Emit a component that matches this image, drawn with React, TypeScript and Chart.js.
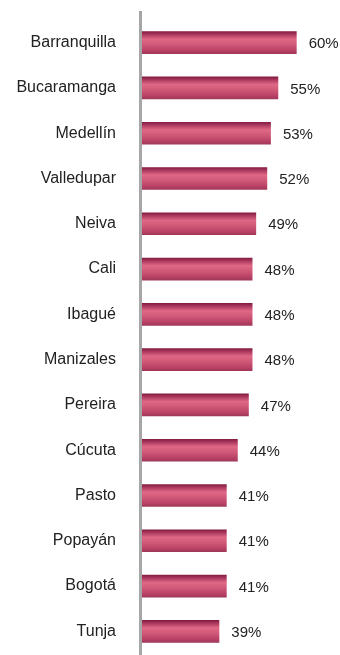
import React, { useEffect, useRef } from "react";
import { Chart, registerables } from "chart.js";

Chart.register(...registerables);

const cities = [
  "Barranquilla",
  "Bucaramanga",
  "Medellín",
  "Valledupar",
  "Neiva",
  "Cali",
  "Ibagué",
  "Manizales",
  "Pereira",
  "Cúcuta",
  "Pasto",
  "Popayán",
  "Bogotá",
  "Tunja",
];
const values = [60, 55, 53, 52, 49, 48, 48, 48, 47, 44, 41, 41, 41, 39];
const valueLabels = ["60%", "55%", "53%", "52%", "49%", "48%", "48%", "48%", "47%", "44%", "41%", "41%", "41%", "39%"];

const FONT = "'Liberation Sans', Arial, sans-serif";

export default function App() {
  const ref = useRef<HTMLCanvasElement | null>(null);

  useEffect(() => {
    const canvas = ref.current;
    if (!canvas) return;

    const barGradient = (ctx: any) => {
      const chart = ctx.chart;
      const y = chart.scales?.y;
      if (!y || ctx.dataIndex === undefined) return "#c24a6a";
      const c = y.getPixelForValue(ctx.dataIndex);
      const cat = (y.bottom - y.top) / cities.length;
      const h = cat * 0.5;
      if (!isFinite(c) || !isFinite(h) || h <= 0) return "#c24a6a";
      const g = chart.ctx.createLinearGradient(0, c - h / 2, 0, c + h / 2);
      g.addColorStop(0, "#801a40");
      g.addColorStop(0.12, "#a53359");
      g.addColorStop(0.35, "#e06887");
      g.addColorStop(0.55, "#d35b7a");
      g.addColorStop(0.8, "#bd4669");
      g.addColorStop(1, "#a03658");
      return g;
    };

    const axisLine = {
      id: "axisLine",
      afterDatasetsDraw(chart: any) {
        const c = chart.ctx;
        const area = chart.chartArea;
        c.save();
        c.fillStyle = "#a6a6a6";
        c.fillRect(area.left - 3, 11, 3, chart.height - 11);
        c.restore();
      },
    };

    const valuePlugin = {
      id: "valueLabels",
      afterDatasetsDraw(chart: any) {
        const c = chart.ctx;
        const meta = chart.getDatasetMeta(0);
        c.save();
        c.fillStyle = "#222222";
        c.font = `15px ${FONT}`;
        c.textAlign = "left";
        c.textBaseline = "middle";
        meta.data.forEach((el: any, i: number) => {
          c.fillText(valueLabels[i], el.x + 12, el.y + 1.5);
        });
        c.restore();
      },
    };

    const chart = new Chart(canvas, {
      type: "bar",
      data: {
        labels: cities,
        datasets: [
          {
            data: values,
            backgroundColor: barGradient,
            borderWidth: 0,
            barPercentage: 0.5,
            categoryPercentage: 1,
          },
        ],
      },
      options: {
        indexAxis: "y",
        animation: false,
        responsive: true,
        maintainAspectRatio: false,
        layout: { padding: { top: 20, bottom: 1, left: 0, right: 6.5 } },
        plugins: {
          legend: { display: false },
          tooltip: { enabled: false },
        },
        scales: {
          x: {
            display: false,
            min: 18,
            max: 70,
          },
          y: {
            grid: { display: false, drawTicks: false },
            border: { display: false },
            afterFit(scale: any) {
              scale.width = 142;
              scale.paddingTop = 0;
              scale.paddingBottom = 0;
            },
            ticks: {
              padding: 26,
              color: "#222222",
              font: { size: 16, family: FONT },
            },
          },
        },
      },
      plugins: [axisLine, valuePlugin],
    });

    return () => chart.destroy();
  }, []);

  return (
    <div style={{ position: "absolute", left: 0, top: 0, width: 340, height: 655, background: "#ffffff" }}>
      <canvas ref={ref} />
    </div>
  );
}
